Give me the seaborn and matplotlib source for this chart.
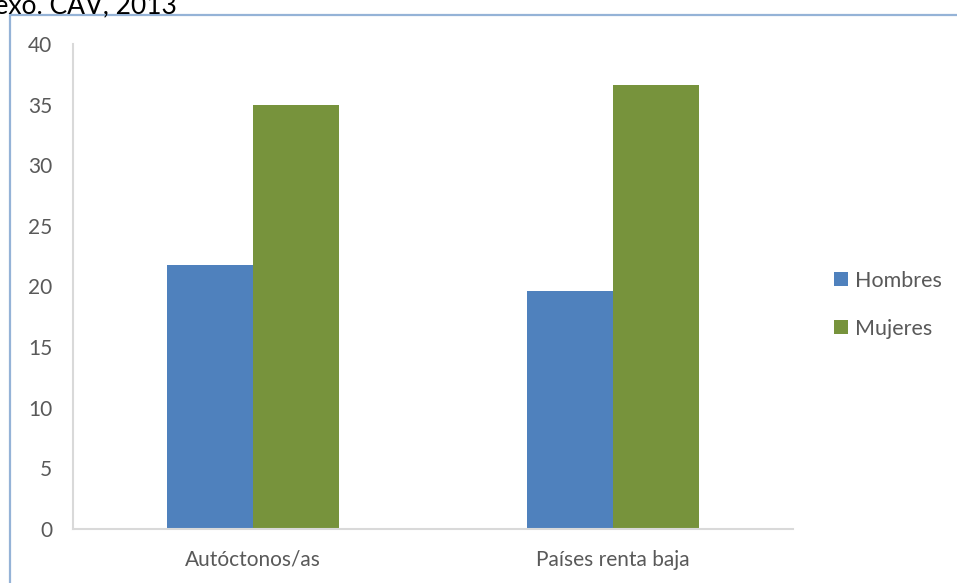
import matplotlib
matplotlib.use("Agg")
import matplotlib.pyplot as plt
from matplotlib.patches import Rectangle
import seaborn as sns
import pandas as pd

# Data
categories = ["Autóctonos/as", "Países renta baja"]
hombres = [21.8, 19.6]
mujeres = [35.0, 36.6]
series_names = ["Hombres", "Mujeres"]
y_ticks = [0, 5, 10, 15, 20, 25, 30, 35, 40]
title_text = "sexo. CAV, 2013"

df = pd.DataFrame({
    "grupo": categories * 2,
    "sexo": [series_names[0]] * len(categories) + [series_names[1]] * len(categories),
    "valor": hombres + mujeres,
})

sns.set_theme(style="white")
plt.rcParams["font.family"] = ["Lato", "DejaVu Sans"]
text_color = "#595959"
fs = 15

W, H = 957, 583
fig = plt.figure(figsize=(W / 100, H / 100), dpi=100)
ax = fig.add_axes([73 / W, (H - 529) / H, (793 - 73) / W, (529 - 44) / H])

sns.barplot(
    data=df, x="grupo", y="valor", hue="sexo", ax=ax,
    palette=["#4F81BD", "#77933C"], width=0.477, gap=0,
    linewidth=0, saturation=1, errorbar=None,
)

ax.set_ylim(0, 40)
ax.set_yticks(y_ticks)
ax.set_yticklabels([str(t) for t in y_ticks])
ax.set_xlabel("")
ax.set_ylabel("")
ax.tick_params(axis="both", length=0, labelsize=fs, labelcolor=text_color)
ax.tick_params(axis="y", pad=15)
ax.tick_params(axis="x", pad=15)
for side in ["top", "right"]:
    ax.spines[side].set_visible(False)
for side in ["left", "bottom"]:
    ax.spines[side].set_color("#D9D9D9")
    ax.spines[side].set_linewidth(1.5)

# Legend at right
handles, labels = ax.get_legend_handles_labels()
ax.legend(
    handles, labels, loc="center left", bbox_to_anchor=(815 / W, (H - 305) / H),
    bbox_transform=fig.transFigure, frameon=False, fontsize=15.5,
    handlelength=0.62, handleheight=0.62, handletextpad=0.35, labelspacing=1.3,
    labelcolor=text_color,
)

# Chart area border
fig.patches.append(Rectangle((10 / W, -0.1), 1.0, (H - 15) / H + 0.1,
                             transform=fig.transFigure, fill=False,
                             edgecolor="#95B3D7", linewidth=1.6))

# Title text, partly outside the canvas
fig.text(177 / W, (H - 13) / H, title_text, ha="right", va="baseline",
         fontsize=19, color="black")

fig.savefig("out.png", dpi=100)
